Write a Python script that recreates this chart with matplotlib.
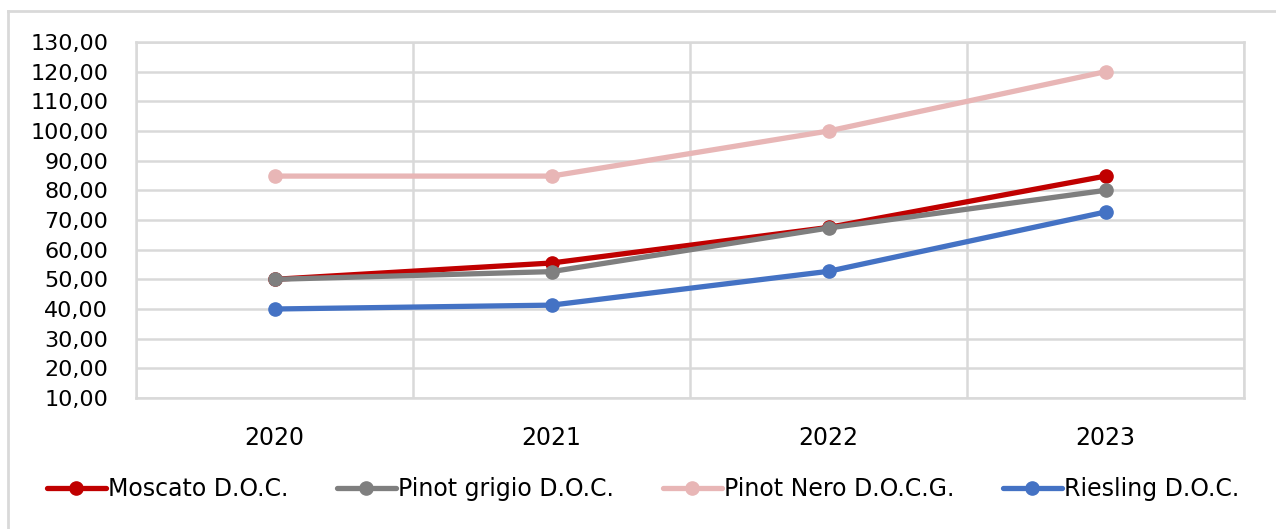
import matplotlib.pyplot as plt
from matplotlib.lines import Line2D
from matplotlib.ticker import FuncFormatter, MultipleLocator

years = ["2020", "2021", "2022", "2023"]
moscato = [50.0, 55.5, 67.5, 84.8]
pinot_grigio = [50.0, 52.6, 67.3, 80.0]
pinot_nero = [84.8, 84.8, 100.0, 120.0]
riesling = [40.0, 41.3, 52.7, 72.7]

series_names = ["Moscato D.O.C.", "Pinot grigio D.O.C.", "Pinot Nero D.O.C.G.", "Riesling D.O.C."]
series_colors = ["#C00000", "#7F7F7F", "#E8B6B6", "#4472C4"]

grid_col = "#D9D9D9"

plt.rcParams['font.family'] = ['DejaVu Sans']

fig = plt.figure(figsize=(12.76, 5.29), dpi=100)
ax = fig.add_axes([136 / 1276, 1 - 398 / 529, (1244 - 136) / 1276, (398 - 42) / 529])

x = list(range(len(years)))
for vals, name, col in zip([moscato, pinot_grigio, pinot_nero, riesling], series_names, series_colors):
    ax.plot(x, vals, color=col, lw=3.8, marker='o', ms=9.5, label=name,
            solid_capstyle='round', zorder=3)

ax.set_xlim(-0.5, len(years) - 0.5)
ax.set_ylim(10, 130)
ax.yaxis.set_major_locator(MultipleLocator(10))
ax.yaxis.set_major_formatter(FuncFormatter(lambda v, p: f"{v:.2f}".replace('.', ',')))
ax.set_xticks(x)
ax.set_xticklabels(years)
ax.set_xticks([i - 0.5 for i in range(len(years) + 1)], minor=True)

ax.grid(axis='y', which='major', color=grid_col, lw=1.8)
ax.grid(axis='x', which='minor', color=grid_col, lw=1.8)
ax.set_axisbelow(True)
for s in ax.spines.values():
    s.set_color(grid_col)
    s.set_linewidth(1.8)

ax.tick_params(axis='both', which='both', length=0, labelsize=16, colors='#000000')
ax.tick_params(axis='x', labelsize=17, pad=20)
ax.tick_params(axis='y', pad=20)

# outer chart frame
fig.add_artist(Line2D([8 / 1276, 1], [1 - 11 / 529, 1 - 11 / 529], color=grid_col, lw=2))
fig.add_artist(Line2D([8 / 1276, 8 / 1276], [0, 1 - 11 / 529], color=grid_col, lw=2))

fig.legend(loc='center', bbox_to_anchor=(0.504, 1 - 489 / 529), ncol=4, frameon=False,
           fontsize=17, handlelength=2.5, handletextpad=0.1, columnspacing=2.05)

fig.savefig("out.png", dpi=100, facecolor='white')
